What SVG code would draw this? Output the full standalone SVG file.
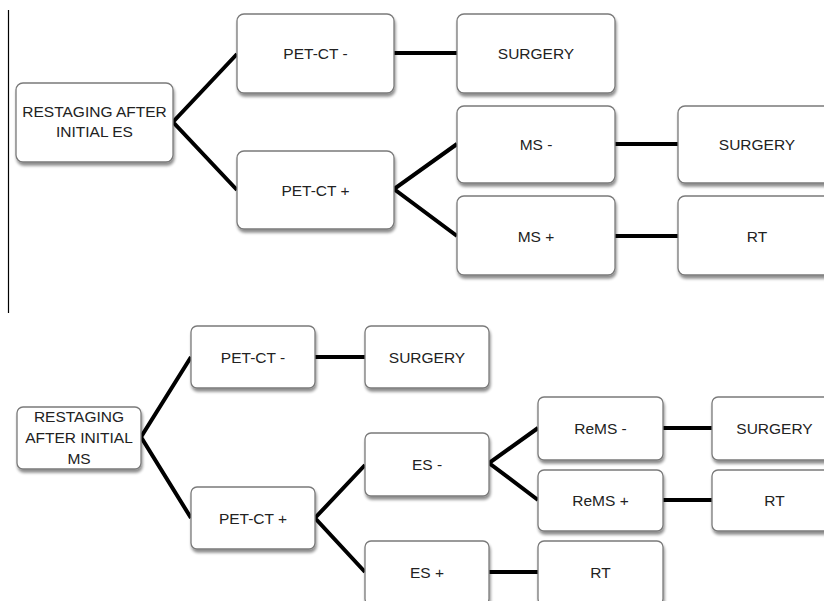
<svg xmlns="http://www.w3.org/2000/svg" width="824" height="601" viewBox="0 0 824 601">
<defs>
<filter id="sh" x="-10%" y="-10%" width="130%" height="140%">
<feGaussianBlur in="SourceAlpha" stdDeviation="1.5"/>
<feOffset dx="1" dy="2.5" result="b"/>
<feComponentTransfer><feFuncA type="linear" slope="0.45"/></feComponentTransfer>
<feMerge><feMergeNode/><feMergeNode in="SourceGraphic"/></feMerge>
</filter>
</defs>
<style>
.box{fill:#fff;stroke:#7a7a7a;stroke-width:1.3;filter:url(#sh)}
.t{font-family:"Liberation Sans",Arial,sans-serif;font-size:15.5px;fill:#222;text-anchor:middle}
.c{stroke:#000;stroke-width:4;fill:none;stroke-linejoin:miter}
</style>
<rect width="824" height="601" fill="#fff"/>
<line x1="8.5" y1="10" x2="8.5" y2="313" stroke="#000" stroke-width="1.2"/>
<g id="connectors">
<polyline class="c" points="237,54 173,122 237,190"/>
<line class="c" x1="394" y1="53" x2="457" y2="53"/>
<polyline class="c" points="457,144 394,189 457,236"/>
<line class="c" x1="615" y1="144" x2="678" y2="144"/>
<line class="c" x1="615" y1="236" x2="678" y2="236"/>
<polyline class="c" points="191,357 141,437 191,518"/>
<line class="c" x1="315" y1="357" x2="365" y2="357"/>
<polyline class="c" points="365,465 315,518 365,572"/>
<polyline class="c" points="538,428 489,463 538,500"/>
<line class="c" x1="663" y1="428" x2="712" y2="428"/>
<line class="c" x1="663" y1="500" x2="712" y2="500"/>
<line class="c" x1="489" y1="572" x2="538" y2="572"/>
</g>
<g id="root1"><rect class="box" x="16" y="83" width="157" height="79" rx="7"/><text class="t" x="94.5" y="117">RESTAGING AFTER</text><text class="t" x="94.5" y="137">INITIAL ES</text></g>
<g id="petneg1"><rect class="box" x="237" y="14" width="157" height="79" rx="7"/><text class="t" x="315.5" y="59">PET-CT -</text></g>
<g id="petpos1"><rect class="box" x="237" y="151" width="157" height="78" rx="7"/><text class="t" x="315.5" y="195.5">PET-CT +</text></g>
<g id="surg1"><rect class="box" x="457" y="14" width="158" height="79" rx="7"/><text class="t" x="536" y="59">SURGERY</text></g>
<g id="msneg"><rect class="box" x="457" y="106" width="158" height="77" rx="7"/><text class="t" x="536" y="149.5">MS -</text></g>
<g id="mspos"><rect class="box" x="457" y="196" width="158" height="79" rx="7"/><text class="t" x="536" y="241.5">MS +</text></g>
<g id="surg2"><rect class="box" x="678" y="106" width="158" height="77" rx="7"/><text class="t" x="757" y="149.5">SURGERY</text></g>
<g id="rt1"><rect class="box" x="678" y="196" width="158" height="79" rx="7"/><text class="t" x="757" y="241.5">RT</text></g>
<g id="root2"><rect class="box" x="17" y="407" width="124" height="62" rx="6"/><text class="t" x="79" y="421.5">RESTAGING</text><text class="t" x="79" y="442.5">AFTER INITIAL</text><text class="t" x="79" y="464">MS</text></g>
<g id="petneg2"><rect class="box" x="191" y="326" width="124" height="62" rx="6"/><text class="t" x="253" y="362.5">PET-CT -</text></g>
<g id="petpos2"><rect class="box" x="191" y="487" width="124" height="62" rx="6"/><text class="t" x="253" y="524">PET-CT +</text></g>
<g id="surg3"><rect class="box" x="365" y="326" width="124" height="62" rx="6"/><text class="t" x="427" y="362.5">SURGERY</text></g>
<g id="esneg"><rect class="box" x="365" y="433" width="124" height="63" rx="6"/><text class="t" x="427" y="469.5">ES -</text></g>
<g id="espos"><rect class="box" x="365" y="541" width="124" height="64" rx="6"/><text class="t" x="427" y="577.5">ES +</text></g>
<g id="remsneg"><rect class="box" x="538" y="397" width="125" height="63" rx="6"/><text class="t" x="600.5" y="433.5">ReMS -</text></g>
<g id="remspos"><rect class="box" x="538" y="470" width="125" height="61" rx="6"/><text class="t" x="600.5" y="505.5">ReMS +</text></g>
<g id="rt3"><rect class="box" x="538" y="541" width="125" height="64" rx="6"/><text class="t" x="600.5" y="577.5">RT</text></g>
<g id="surg4"><rect class="box" x="712" y="397" width="125" height="63" rx="6"/><text class="t" x="774.5" y="433.5">SURGERY</text></g>
<g id="rt2"><rect class="box" x="712" y="470" width="125" height="61" rx="6"/><text class="t" x="774.5" y="505.5">RT</text></g>
</svg>
